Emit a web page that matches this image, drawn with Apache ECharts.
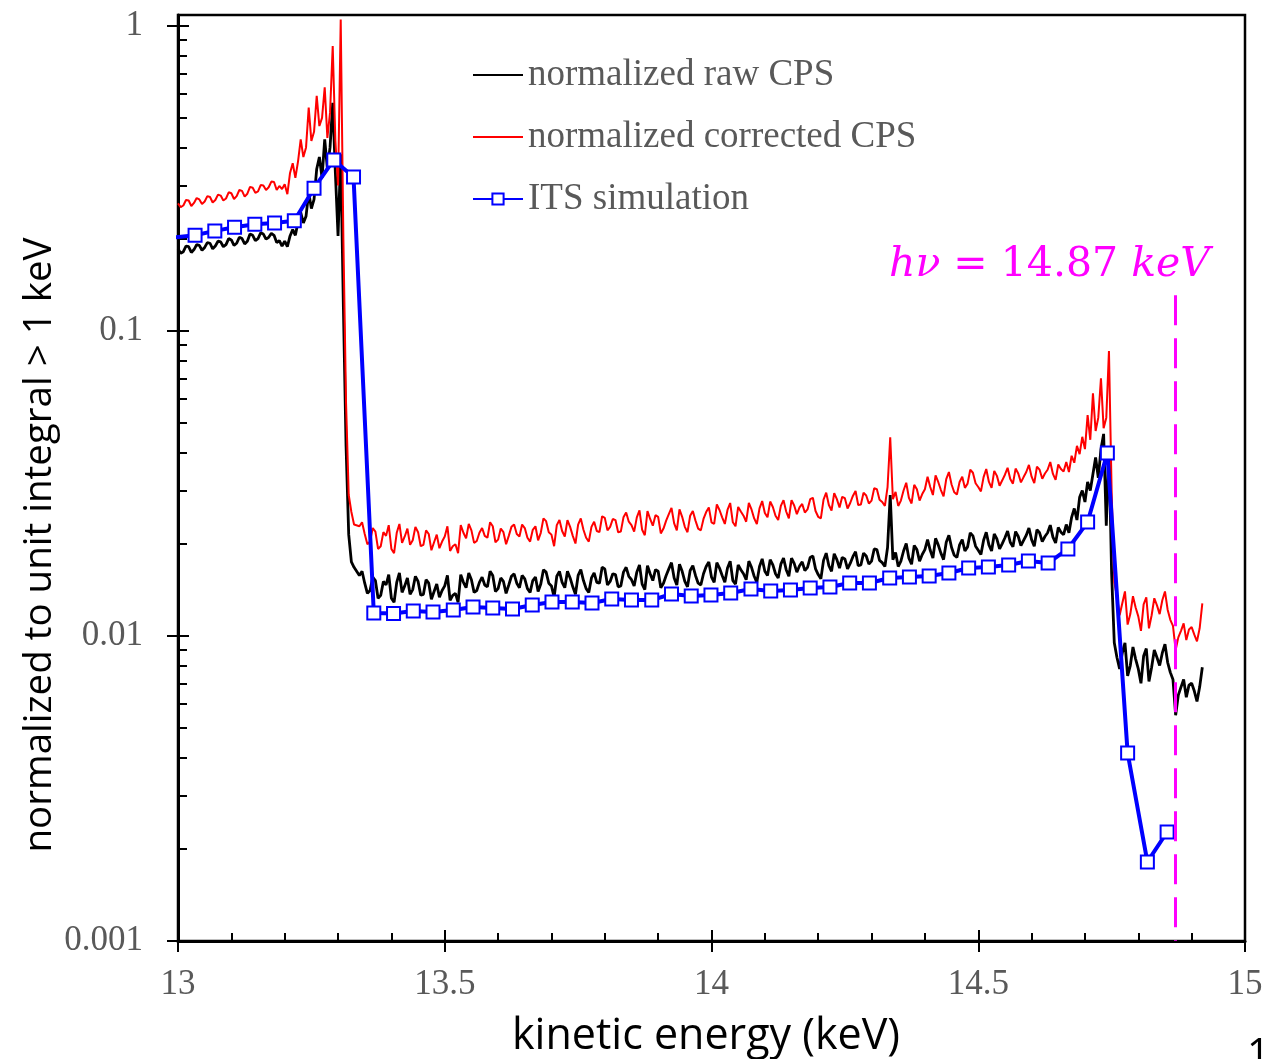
<!DOCTYPE html>
<html>
<head>
<meta charset="utf-8">
<script src="https://cdn.jsdelivr.net/npm/echarts@6.0.0/dist/echarts.min.js"></script>
<style>
html,body{margin:0;padding:0;background:#fff;}
#chart{width:1266px;height:1059px;}
</style>
</head>
<body>
<div id="chart"></div>
<script>
// ---------------- data ----------------
const energy = [
13.000,13.005,13.010,13.015,13.020,13.025,13.030,13.035,13.040,13.045,
13.050,13.055,13.060,13.065,13.070,13.075,13.080,13.085,13.090,13.095,
13.100,13.105,13.110,13.115,13.120,13.125,13.130,13.135,13.140,13.145,
13.150,13.155,13.160,13.165,13.170,13.175,13.180,13.185,13.190,
13.195,13.200,13.205,13.210,13.215,13.220,13.225,13.230,13.235,13.240,
13.245,13.250,13.255,13.260,13.265,13.270,13.275,13.280,13.285,13.290,
13.295,13.300,13.305,13.310,13.315,13.320,13.325,13.330,
13.340,13.345,13.350,13.355,13.360,13.365,13.370,13.375,13.380,13.385,13.390,13.395,13.400,13.405,13.410,13.415,13.420,13.425,13.430,13.435,
13.440,13.445,13.450,13.455,13.460,13.465,13.470,13.475,13.480,13.485,13.490,13.495,13.500,13.505,13.510,13.515,13.520,13.525,13.530,13.535,
13.540,13.545,13.550,13.555,13.560,13.565,13.570,13.575,13.580,13.585,13.590,13.595,13.600,13.605,13.610,13.615,13.620,13.625,13.630,13.635,
13.640,13.645,13.650,13.655,13.660,13.665,13.670,13.675,13.680,13.685,13.690,13.695,13.700,13.705,13.710,13.715,13.720,13.725,13.730,13.735,
13.740,13.745,13.750,13.755,13.760,13.765,13.770,13.775,13.780,13.785,13.790,13.795,13.800,13.805,13.810,13.815,13.820,13.825,13.830,13.835,
13.840,13.845,13.850,13.855,13.860,13.865,13.870,13.875,13.880,13.885,13.890,13.895,13.900,13.905,13.910,13.915,13.920,13.925,13.930,13.935,
13.940,13.945,13.950,13.955,13.960,13.965,13.970,13.975,13.980,13.985,13.990,13.995,14.000,14.005,14.010,14.015,14.020,14.025,14.030,14.035,
14.040,14.045,14.050,14.055,14.060,14.065,14.070,14.075,14.080,14.085,14.090,14.095,14.100,14.105,14.110,14.115,14.120,14.125,14.130,14.135,
14.140,14.145,14.150,14.155,14.160,14.165,14.170,14.175,14.180,14.185,14.190,14.195,14.200,14.205,14.210,14.215,14.220,14.225,14.230,14.235,
14.240,14.245,14.250,14.255,14.260,14.265,14.270,14.275,14.280,14.285,14.290,14.295,14.300,14.305,14.310,14.315,14.320,14.325,14.330,14.335,
14.340,14.345,14.350,14.355,14.360,14.365,14.370,14.375,14.380,14.385,14.390,14.395,14.400,14.405,14.410,14.415,14.420,14.425,14.430,14.435,
14.440,14.445,14.450,14.455,14.460,14.465,14.470,14.475,14.480,14.485,14.490,14.495,14.500,14.505,14.510,14.515,14.520,14.525,14.530,14.535,
14.540,14.545,14.550,14.555,14.560,14.565,14.570,14.575,14.580,14.585,14.590,14.595,14.600,14.605,14.610,14.615,14.620,14.625,14.630,14.635,
14.640,14.645,14.650,14.655,14.660,
14.665,14.670,14.675,14.680,14.685,14.690,14.695,14.700,14.705,14.710,
14.715,14.720,14.725,14.730,14.735,14.740,14.745,14.750,14.755,14.760,
14.765,14.770,14.775,14.780,14.785,14.790,14.795,14.800,14.805,14.810,
14.815,14.820,14.825,14.830,14.835,14.840,14.845,14.850,14.855,14.860,
14.865,14.870,14.875,14.880,14.885,14.890,14.895,14.900,14.905,14.910,
14.915,14.920
];

const rawCPS = [
0.186,0.180,0.182,0.190,0.189,0.181,0.185,0.192,0.191,0.184,
0.188,0.195,0.194,0.186,0.190,0.197,0.196,0.189,0.192,0.201,
0.199,0.191,0.194,0.203,0.201,0.193,0.197,0.208,0.206,0.198,
0.201,0.210,0.208,0.200,0.203,0.209,0.206,0.195,0.198,
0.190,0.197,0.189,0.205,0.215,0.206,0.228,0.245,0.226,0.238,
0.285,0.252,0.270,0.340,0.372,0.318,0.425,0.340,0.400,0.560,
0.330,0.205,0.380,0.120,0.042,0.0215,0.0175,0.0168,
0.0158,0.0163,0.0149,0.0138,0.0141,0.0156,0.0152,0.0133,0.0136,0.0151,0.0147,0.0159,0.0133,0.0129,0.0150,0.0161,0.0139,0.0146,0.0155,0.0137,
0.0142,0.0157,0.0151,0.0136,0.0137,0.0153,0.0149,0.0132,0.0140,0.0148,0.0134,0.0141,0.0146,0.0158,0.0131,0.0136,0.0138,0.0129,0.0159,0.0150,
0.0144,0.0161,0.0153,0.0139,0.0141,0.0150,0.0156,0.0147,0.0145,0.0163,0.0158,0.0140,0.0143,0.0155,0.0151,0.0138,0.0147,0.0157,0.0160,0.0149,
0.0144,0.0158,0.0154,0.0143,0.0139,0.0152,0.0156,0.0140,0.0148,0.0165,0.0162,0.0149,0.0146,0.0134,0.0157,0.0163,0.0150,0.0144,0.0163,0.0155,
0.0145,0.0137,0.0158,0.0165,0.0152,0.0143,0.0139,0.0155,0.0161,0.0150,0.0149,0.0168,0.0166,0.0147,0.0151,0.0160,0.0159,0.0145,0.0146,0.0162,
0.0168,0.0157,0.0153,0.0146,0.0162,0.0171,0.0148,0.0142,0.0170,0.0160,0.0152,0.0165,0.0163,0.0144,0.0149,0.0158,0.0166,0.0174,0.0155,0.0147,
0.0172,0.0163,0.0151,0.0145,0.0164,0.0170,0.0158,0.0149,0.0147,0.0160,0.0169,0.0175,0.0156,0.0150,0.0174,0.0167,0.0158,0.0150,0.0167,0.0176,
0.0152,0.0148,0.0171,0.0165,0.0160,0.0153,0.0176,0.0168,0.0157,0.0150,0.0169,0.0179,0.0163,0.0158,0.0178,0.0171,0.0160,0.0155,0.0172,0.0180,
0.0165,0.0157,0.0180,0.0173,0.0162,0.0170,0.0175,0.0164,0.0168,0.0181,0.0183,0.0166,0.0159,0.0154,0.0177,0.0187,0.0170,0.0163,0.0186,0.0178,
0.0167,0.0181,0.0179,0.0166,0.0173,0.0182,0.0189,0.0170,0.0171,0.0187,0.0183,0.0172,0.0176,0.0193,0.0192,0.0177,0.0174,0.0169,0.0195,0.0290,
0.0178,0.0188,0.0169,0.0176,0.0190,0.0201,0.0180,0.0172,0.0198,0.0192,0.0176,0.0185,0.0192,0.0207,0.0191,0.0180,0.0209,0.0199,0.0187,0.0178,
0.0203,0.0214,0.0195,0.0184,0.0181,0.0199,0.0207,0.0190,0.0196,0.0218,0.0213,0.0197,0.0191,0.0185,0.0206,0.0219,0.0199,0.0190,0.0216,0.0208,
0.0193,0.0201,0.0210,0.0221,0.0203,0.0196,0.0220,0.0212,0.0198,0.0206,0.0214,0.0226,0.0207,0.0197,0.0223,0.0218,0.0204,0.0212,0.0218,0.0231,
0.0211,0.0202,0.0227,0.0219,0.0215,
0.0232,0.0218,0.0245,0.0262,0.0240,0.0285,0.0300,0.0275,0.0320,0.0300,
0.0340,0.0385,0.0330,0.0410,0.0460,0.0230,0.0420,0.0160,0.0095,0.0085,
0.0078,0.0088,0.0095,0.0074,0.0080,0.0092,0.0084,0.0078,0.0070,0.0086,
0.0091,0.0071,0.0079,0.0090,0.0085,0.0080,0.0088,0.0094,0.0082,0.0076,
0.0072,0.0055,0.0064,0.0068,0.0072,0.0063,0.0069,0.0070,0.0066,0.0061,
0.0068,0.0079
];

const correctedCPS = [
0.262,0.255,0.258,0.269,0.268,0.257,0.263,0.273,0.270,0.261,
0.266,0.277,0.275,0.264,0.269,0.280,0.278,0.268,0.272,0.285,
0.283,0.271,0.277,0.290,0.288,0.276,0.282,0.297,0.295,0.284,
0.287,0.301,0.300,0.290,0.296,0.309,0.308,0.290,0.299,
0.292,0.303,0.281,0.330,0.355,0.318,0.360,0.425,0.372,0.400,
0.540,0.420,0.450,0.590,0.470,0.500,0.630,0.430,0.520,0.860,
0.420,0.300,1.050,0.200,0.058,0.029,0.0255,0.0232,
0.0229,0.0236,0.0216,0.0200,0.0204,0.0226,0.0220,0.0193,0.0197,0.0219,0.0213,0.0231,0.0193,0.0187,0.0218,0.0233,0.0202,0.0212,0.0225,0.0199,
0.0206,0.0228,0.0219,0.0197,0.0199,0.0222,0.0216,0.0191,0.0203,0.0215,0.0194,0.0204,0.0212,0.0229,0.0190,0.0197,0.0200,0.0187,0.0231,0.0218,
0.0209,0.0233,0.0222,0.0202,0.0205,0.0218,0.0226,0.0213,0.0210,0.0236,0.0229,0.0203,0.0207,0.0225,0.0219,0.0200,0.0213,0.0228,0.0232,0.0216,
0.0212,0.0232,0.0226,0.0210,0.0204,0.0223,0.0229,0.0206,0.0218,0.0243,0.0238,0.0219,0.0215,0.0197,0.0231,0.0240,0.0221,0.0212,0.0240,0.0228,
0.0213,0.0201,0.0232,0.0243,0.0223,0.0210,0.0204,0.0228,0.0237,0.0221,0.0219,0.0247,0.0244,0.0222,0.0228,0.0242,0.0240,0.0219,0.0220,0.0245,
0.0254,0.0237,0.0231,0.0220,0.0245,0.0258,0.0223,0.0214,0.0257,0.0242,0.0230,0.0249,0.0246,0.0217,0.0225,0.0239,0.0251,0.0263,0.0234,0.0222,
0.0260,0.0246,0.0228,0.0219,0.0248,0.0257,0.0239,0.0225,0.0222,0.0242,0.0255,0.0264,0.0236,0.0233,0.0270,0.0259,0.0245,0.0233,0.0259,0.0273,
0.0236,0.0229,0.0265,0.0256,0.0248,0.0237,0.0273,0.0260,0.0243,0.0233,0.0262,0.0277,0.0253,0.0245,0.0276,0.0265,0.0248,0.0240,0.0267,0.0279,
0.0256,0.0243,0.0279,0.0268,0.0251,0.0264,0.0271,0.0254,0.0260,0.0281,0.0284,0.0257,0.0246,0.0243,0.0280,0.0295,0.0269,0.0258,0.0294,0.0281,
0.0264,0.0286,0.0283,0.0262,0.0273,0.0288,0.0299,0.0269,0.0270,0.0295,0.0289,0.0272,0.0278,0.0305,0.0303,0.0280,0.0275,0.0267,0.0308,0.0448,
0.0281,0.0297,0.0267,0.0278,0.0300,0.0318,0.0284,0.0272,0.0313,0.0303,0.0278,0.0292,0.0303,0.0333,0.0308,0.0290,0.0336,0.0320,0.0301,0.0287,
0.0327,0.0345,0.0314,0.0296,0.0291,0.0320,0.0333,0.0306,0.0316,0.0351,0.0343,0.0317,0.0308,0.0298,0.0332,0.0353,0.0320,0.0306,0.0348,0.0335,
0.0311,0.0324,0.0338,0.0356,0.0327,0.0316,0.0354,0.0341,0.0319,0.0332,0.0345,0.0364,0.0333,0.0317,0.0359,0.0351,0.0328,0.0341,0.0351,0.0372,
0.0340,0.0325,0.0365,0.0353,0.0346,
0.0372,0.0345,0.0390,0.0370,0.0420,0.0395,0.0450,0.0410,0.0530,0.0440,
0.0625,0.0470,0.0520,0.0700,0.0480,0.0520,0.0860,0.0300,0.0150,0.0135,
0.0117,0.0128,0.0140,0.0109,0.0118,0.0135,0.0124,0.0116,0.0104,0.0127,
0.0134,0.0106,0.0117,0.0133,0.0126,0.0118,0.0131,0.0140,0.0122,0.0113,
0.0108,0.0090,0.0099,0.0104,0.0110,0.0097,0.0105,0.0107,0.0101,0.0096,
0.0106,0.0128
];

const simEnergy = [
12.995,13.032,13.069,13.106,13.144,13.181,13.218,13.255,13.292,13.329,
13.367,13.404,13.441,13.478,13.516,13.553,13.590,13.627,13.664,13.701,
13.739,13.776,13.813,13.850,13.888,13.925,13.962,13.999,14.036,14.074,
14.111,14.148,14.185,14.222,14.259,14.296,14.334,14.371,14.408,14.445,
14.482,14.519,14.557,14.594,14.631,14.668,14.705,14.742,14.780,14.817,
14.854
];
const simValue = [
0.203,0.206,0.213,0.219,0.224,0.226,0.230,0.294,0.364,0.320,
0.01190,0.01186,0.01208,0.01199,0.01217,0.01245,0.01235,0.01226,0.01264,0.01293,
0.01293,0.01283,0.01322,0.01312,0.01312,0.01373,0.01352,0.01363,0.01384,0.01426,
0.01405,0.01415,0.01437,0.01448,0.01492,0.01492,0.01550,0.01561,0.01573,0.01609,
0.01671,0.01684,0.01709,0.01762,0.01735,0.01929,0.02364,0.0398,0.004134,0.001816,
0.002277
];

const seriesNames = ['normalized raw CPS', 'normalized corrected CPS', 'ITS simulation'];
const xTickLabels = ['13', '13.5', '14', '14.5', '15'];
const yMajorTicks = [0.001, 0.01, 0.1, 1];
const yMajorLabels = ['0.001', '0.01', '0.1', '1'];
const yMinorTicks = [0.002,0.003,0.004,0.005,0.006,0.007,0.008,0.009,
                     0.02,0.03,0.04,0.05,0.06,0.07,0.08,0.09,
                     0.2,0.3,0.4,0.5,0.6,0.7,0.8,0.9];
const photonEnergy = 14.87;
const photonLineTop = 0.131;

// ---------------- chart ----------------
const chart = echarts.init(document.getElementById('chart'), null, {renderer: 'canvas'});

const rawData = energy.map((e, i) => [e, rawCPS[i]]);
const corData = energy.map((e, i) => [e, correctedCPS[i]]);
const simData = simEnergy.map((e, i) => [e, simValue[i]]);

const Y_MIN = 0.001, Y_MAX = 1.087;
const serif = '"Liberation Serif", "Times New Roman", serif';
const labelGray = '#595959';

function logAxis(extra) {
  return Object.assign({
    type: 'log', logBase: 10, min: Y_MIN, max: Y_MAX, position: 'left',
    gridIndex: 0, splitLine: {show: false}, minorSplitLine: {show: false},
    axisLine: {show: false}, axisLabel: {show: false}, axisTick: {show: false}
  }, extra);
}

const option = {
  animation: false,
  backgroundColor: '#fff',
  grid: {left: 178, right: 21, top: 15, bottom: 118, show: true,
         borderColor: '#000', borderWidth: 2.5, backgroundColor: 'transparent',
         containLabel: false, outerBoundsMode: 'none'},
  legend: {
    show: true, orient: 'vertical', left: 472, top: 55, padding: 0,
    itemWidth: 50, itemHeight: 14, itemGap: 22, selectedMode: false,
    data: [
      {name: seriesNames[0], itemStyle: {opacity: 0, color: 'transparent', borderWidth: 0}},
      {name: seriesNames[1], itemStyle: {opacity: 0, color: 'transparent', borderWidth: 0}},
      {name: seriesNames[2]}
    ],
    textStyle: {fontFamily: serif, fontSize: 37, color: labelGray, lineHeight: 40}
  },
  xAxis: [
    {type: 'value', min: 13, max: 15, interval: 0.5, position: 'bottom',
     splitLine: {show: false},
     axisLine: {show: true, onZero: false, lineStyle: {color: '#000', width: 3}},
     axisTick: {show: true, inside: false, length: 11, lineStyle: {color: '#000', width: 2}},
     axisLabel: {show: true, margin: 26, color: labelGray, fontFamily: serif, fontSize: 35,
                 formatter: (v) => {
                   const idx = Math.round((v - 13) / 0.5);
                   return xTickLabels[idx] !== undefined ? xTickLabels[idx] : '';
                 }}},
    {type: 'value', min: 13, max: 15, interval: 0.5, position: 'bottom',
     splitLine: {show: false},
     axisLine: {show: false, onZero: false},
     axisTick: {show: true, inside: true, length: 11, lineStyle: {color: '#000', width: 2}},
     minorTick: {show: true, splitNumber: 5, length: 8, lineStyle: {color: '#000', width: 2}},
     axisLabel: {show: false}}
  ],
  yAxis: [
    logAxis({
      axisLine: {show: true, onZero: false, lineStyle: {color: '#000', width: 3}},
      axisTick: {show: true, inside: false, length: 11, customValues: yMajorTicks,
                 lineStyle: {color: '#000', width: 2}},
      axisLabel: {show: true, margin: 35, customValues: yMajorTicks, color: labelGray,
                  fontFamily: serif, fontSize: 35,
                  formatter: v => {
                    const idx = yMajorTicks.findIndex(t => Math.abs(Math.log10(v) - Math.log10(t)) < 1e-6);
                    return idx >= 0 ? yMajorLabels[idx] : '';
                  }}
    }),
    logAxis({
      axisTick: {show: true, inside: true, length: 11, customValues: yMajorTicks,
                 lineStyle: {color: '#000', width: 2}}
    }),
    logAxis({
      axisTick: {show: true, inside: true, length: 9, customValues: yMinorTicks,
                 lineStyle: {color: '#000', width: 2}}
    })
  ],
  series: [
    {name: seriesNames[0], type: 'line', xAxisIndex: 0, yAxisIndex: 0, data: rawData,
     symbol: 'none', showSymbol: false, lineStyle: {color: '#000', width: 2.8}, itemStyle: {color: '#000'},
     emphasis: {disabled: true}, silent: true, z: 2},
    {name: seriesNames[1], type: 'line', xAxisIndex: 0, yAxisIndex: 0, data: corData,
     symbol: 'none', showSymbol: false, lineStyle: {color: '#ff0000', width: 2}, itemStyle: {color: '#ff0000'},
     emphasis: {disabled: true}, silent: true, z: 3,
     markLine: {silent: true, symbol: ['none', 'none'], label: {show: false},
       lineStyle: {color: '#ff00ff', width: 3, type: [30, 13]},
       emphasis: {disabled: true},
       data: [[{coord: [photonEnergy, photonLineTop]}, {coord: [photonEnergy, Y_MIN]}]]}},
    {name: seriesNames[2], type: 'line', xAxisIndex: 0, yAxisIndex: 0, data: simData,
     symbol: 'rect', symbolSize: 13, showSymbol: true, showAllSymbol: true,
     lineStyle: {color: '#0000ff', width: 4},
     itemStyle: {color: '#ffffff', borderColor: '#0000ff', borderWidth: 2},
     emphasis: {disabled: true}, silent: true, z: 4}
  ],
  graphic: [
    {type: 'text', x: 40, y: 545, rotation: Math.PI / 2,
     style: {text: 'normalized to unit integral > 1 keV', fill: '#000',
             font: '38.5px "Open Sans", "Noto Sans", sans-serif', align: 'center', verticalAlign: 'middle'}},
    {type: 'text', x: 706, y: 1037,
     style: {text: 'kinetic energy (keV)', fill: '#000',
             font: '43px "Open Sans", "Noto Sans", sans-serif', align: 'center', verticalAlign: 'middle'}},
    {type: 'text', x: 1247, y: 1056,
     style: {text: '1', fill: '#000',
             font: '40px "Open Sans", "Noto Sans", sans-serif', align: 'left', verticalAlign: 'middle'}},
    {type: 'text', x: 889, y: 265,
     style: {text: '{i|hν}{n| = 14.87 }{i|keV}', align: 'left', verticalAlign: 'middle',
             rich: {
               i: {fontFamily: '"DejaVu Serif", serif', fontStyle: 'italic', fontSize: 41, fill: '#ff00ff'},
               n: {fontFamily: '"DejaVu Serif", serif', fontSize: 41, fill: '#ff00ff'}
             }}}
  ]
};

if (energy.length !== rawCPS.length || energy.length !== correctedCPS.length || simEnergy.length !== simValue.length) {
  option.graphic.push({type: 'text', x: 300, y: 700, style: {text: 'LENGTH MISMATCH ' + energy.length + ' ' + rawCPS.length + ' ' + correctedCPS.length + ' ' + simEnergy.length + ' ' + simValue.length, fill: '#0a0', font: '30px sans-serif'}});
}

chart.setOption(option);
</script>
</body>
</html>
